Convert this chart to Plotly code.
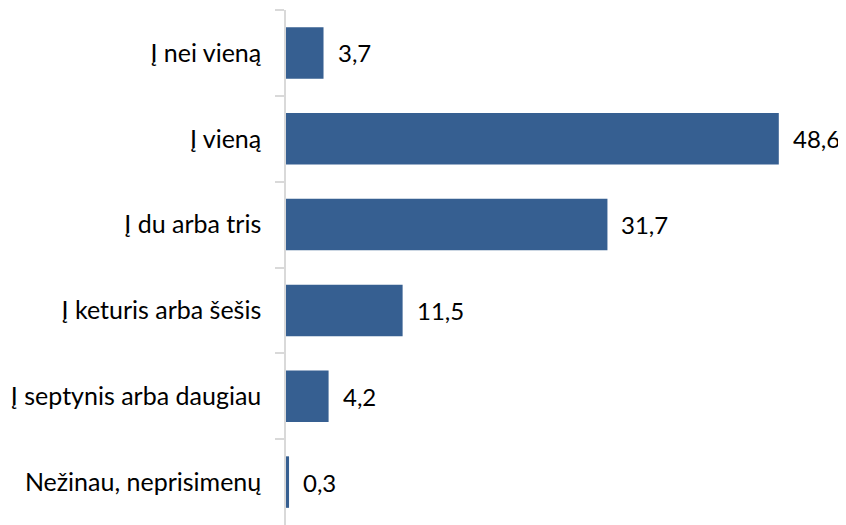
import plotly.graph_objects as go

categories = ["Į nei vieną", "Į vieną", "Į du arba tris", "Į keturis arba šešis",
              "Į septynis arba daugiau", "Nežinau, neprisimenų"]
values = [3.7, 48.6, 31.7, 11.5, 4.2, 0.3]
labels = ["3,7", "48,6", "31,7", "11,5", "4,2", "0,3"]

FONT = "Lato"
BAR = "#365F91"
GRID = "#D9D9D9"

fig = go.Figure(go.Bar(
    x=values, y=categories, orientation="h",
    marker=dict(color=BAR, line=dict(width=0)),
    hoverinfo="skip",
))

for c, v, t in zip(categories, values, labels):
    fig.add_annotation(x=v, y=c, text=t, showarrow=False, xanchor="left",
                       xshift=12, font=dict(family=FONT, size=24, color="#000000"))

# page body has an 8px margin, so the figure is 8px smaller and offset
fig.update_layout(
    width=838, height=517,
    margin=dict(l=278, r=53, t=2, b=0),
    paper_bgcolor="white", plot_bgcolor="white",
    bargap=0.4,
    showlegend=False,
    font=dict(family=FONT, size=24, color="#000000"),
    xaxis=dict(range=[0, 50], visible=False, fixedrange=True),
    yaxis=dict(autorange="reversed", type="category", automargin=False,
               showline=True, linecolor=GRID, linewidth=1.5,
               ticks="outside", ticklen=9, tickcolor=GRID, tickwidth=1.5,
               tickson="boundaries", showgrid=False, ticklabelstandoff=18,
               tickfont=dict(family=FONT, size=25, color="#000000")),
)

fig.write_html("out.html")
